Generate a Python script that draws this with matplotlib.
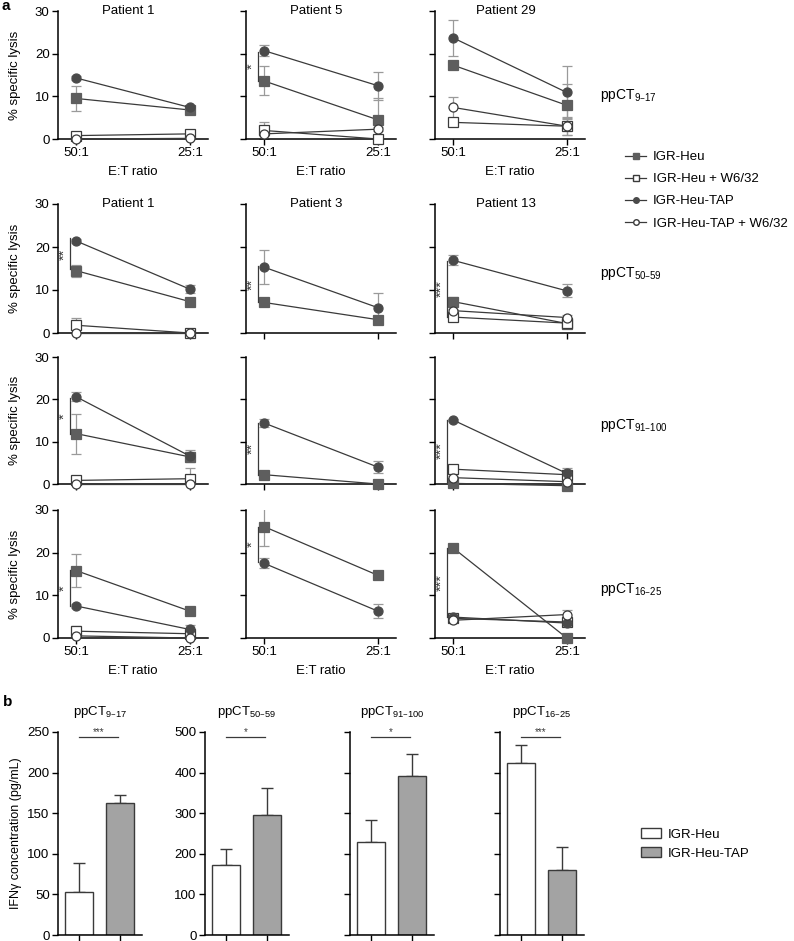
import numpy as np
import matplotlib
matplotlib.use("Agg")
import matplotlib.pyplot as plt
from matplotlib.lines import Line2D
from matplotlib.patches import Patch

plt.rcParams['font.family'] = ['Liberation Sans', 'DejaVu Sans']
plt.rcParams['mathtext.default'] = 'regular'

# %% data - panel a (row-major, 3 patients x 4 peptides), values at 50:1 and 25:1
ratios = ["50:1", "25:1"]
peptides = ["ppCT$_{9\u201317}$", "ppCT$_{50\u201359}$", "ppCT$_{91\u2013100}$", "ppCT$_{16\u201325}$"]
patients = [["Patient 1", "Patient 5", "Patient 29"],
            ["Patient 1", "Patient 3", "Patient 13"],
            ["", "", ""],
            ["", "", ""]]
nan = np.nan
heu = [[9.5, 6.8], [13.6, 4.5], [17.3, 7.9],
       [14.5, 7.3], [7.1, 3.1], [7.3, 2.2],
       [11.9, 6.4], [2.2, 0.0], [0.15, -0.4],
       [15.8, 6.3], [26.1, 14.7], [21.1, 0.0]]
heu_err = [[3.0, 0.5], [3.4, 5.0], [0.0, 4.9],
           [1.4, 0.4], [0.7, 0.4], [1.0, 0.4],
           [4.7, 0.5], [0.3, 0.3], [0.3, 0.3],
           [3.8, 0.4], [4.5, 0.4], [0.4, 0.3]]
heu_w632 = [[0.8, 1.2], [2.0, 0.0], [3.9, 3.0],
            [1.8, 0.0], [nan, nan], [3.7, 2.3],
            [0.85, 1.25], [nan, nan], [3.5, 2.2],
            [1.6, 1.0], [nan, nan], [4.6, 3.75]]
heu_w632_err = [[0.3, 0.3], [2.0, 0.2], [0.5, 2.0],
                [1.8, 0.2], [nan, nan], [0.4, 0.5],
                [0.4, 2.6], [nan, nan], [0.3, 0.5],
                [1.2, 0.5], [nan, nan], [0.4, 0.5]]
tap = [[14.3, 7.4], [20.7, 12.5], [23.7, 10.9],
       [21.4, 10.2], [15.3, 5.9], [16.9, 9.8],
       [20.6, 6.6], [14.4, 4.0], [15.1, 2.5],
       [7.5, 2.0], [17.5, 6.3], [4.9, 3.5]]
tap_err = [[0.4, 0.4], [1.3, 3.3], [4.3, 6.1],
           [0.4, 1.0], [3.9, 3.3], [1.2, 1.5],
           [1.1, 1.5], [1.0, 1.5], [0.3, 1.2],
           [0.5, 1.0], [1.2, 1.7], [0.6, 0.5]]
tap_w632 = [[0.0, 0.15], [1.2, 2.3], [7.4, 3.0],
            [0.0, 0.0], [nan, nan], [5.2, 3.6],
            [0.0, 0.0], [nan, nan], [1.5, 0.55],
            [0.5, 0.0], [nan, nan], [4.15, 5.5]]
tap_w632_err = [[0.2, 0.2], [0.5, 0.5], [2.4, 2.1],
                [0.1, 0.1], [nan, nan], [0.4, 0.5],
                [0.1, 0.1], [nan, nan], [0.3, 0.3],
                [0.3, 0.2], [nan, nan], [0.4, 1.0]]
sig_stars = [None, "*", None,
             "**", "**", "***",
             "*", "**", "***",
             "*", "*", "***"]
sig_span = [None, (20.5, 13.5), None,
            (22.0, 14.8), (15.6, 7.1), (16.8, 3.7),
            (20.2, 11.7), (14.45, 2.2), (15.1, 0.55),
            (16.05, 7.4), (26.1, 17.85), (21.1, 4.9)]

# %% data - panel b, IFNg (pg/mL)
bar_heu = [53, 172, 229, 424]
bar_heu_err = [36, 39, 54, 43]
bar_tap = [163, 295, 391, 160]
bar_tap_err = [9.5, 68, 54, 56]
bar_stars = ["***", "*", "*", "***"]
bar_ymax = [250, 500, 500, 500]

# %% layout helpers (pixel -> figure fraction)
W, H = 794, 941
fig = plt.figure(figsize=(W / 100, H / 100), dpi=100)

def px_axes(x0, x1, ytop, ybot):
    return fig.add_axes([x0 / W, 1 - ybot / H, (x1 - x0) / W, (ybot - ytop) / H])

col_x = [58, 246, 435]
row_y = [(11, 139), (204, 333), (357, 484), (510, 638)]
dark = "#3a3a3a"
sq_col = "#5e5e5e"
ci_col = "#4a4a4a"
errc = "#9a9a9a"
fs = 9.5

series = [(heu, heu_err, "s", sq_col),
          (heu_w632, heu_w632_err, "s", "white"),
          (tap, tap_err, "o", ci_col),
          (tap_w632, tap_w632_err, "o", "white")]
xs = np.array([0, 1])

for r in range(4):
    for c in range(3):
        k = r * 3 + c
        ax = px_axes(col_x[c], col_x[c] + 150, row_y[r][0], row_y[r][1])
        for vals, errs, mk, fc in series:
            v = np.array(vals[k], dtype=float)
            if np.all(np.isnan(v)):
                continue
            e = np.array(errs[k], dtype=float)
            ax.errorbar(xs, v, yerr=e, fmt="none", ecolor=errc, elinewidth=0.9,
                        capsize=3.5, capthick=0.9, zorder=2)
            ax.plot(xs, v, "-", color=dark, lw=0.9, marker=mk, ms=6.5,
                    mfc=fc, mec=dark if fc == "white" else fc, mew=0.9, zorder=3,
                    clip_on=False)
        if sig_stars[k]:
            y1, y2 = sig_span[k]
            ax.plot([-0.055, -0.055], [y1, y2], color=dark, lw=0.9, zorder=4)
            ax.text(-0.1, (y1 + y2) / 2, sig_stars[k], rotation=90, ha="center",
                    va="center", fontsize=fs + 1, color=dark)
        ax.set_xlim(-0.16, 1.16)
        ax.set_ylim(0, 30)
        ax.set_yticks([0, 10, 20, 30])
        ax.set_xticks(xs)
        for s in ["top", "right"]:
            ax.spines[s].set_visible(False)
        for s in ["left", "bottom"]:
            ax.spines[s].set_linewidth(1.1)
        ax.tick_params(width=1.0, length=4, labelsize=fs, pad=2)
        if c > 0:
            ax.set_yticklabels([])
        else:
            fig.text(15 / W, 1 - (row_y[r][0] + row_y[r][1]) / 2 / H, "% specific lysis",
                     rotation=90, ha="center", va="center", fontsize=fs)
        if r in (0, 3):
            ax.set_xticklabels(ratios)
            ax.set_xlabel("E:T ratio", fontsize=fs, labelpad=5)
        else:
            ax.set_xticklabels([])
        if patients[r][c]:
            ax.text(0.47, 1.0, patients[r][c], transform=ax.transAxes, ha="center",
                    va="center", fontsize=fs)
    fig.text(600 / W, 1 - [95, 273, 425, 590][r] / H, peptides[r], ha="left",
             va="center", fontsize=fs + 0.5)

# legend a
handles = [Line2D([], [], color=dark, lw=0.9, marker=mk, ms=4, mfc=fc,
                  mec=dark if fc == "white" else fc)
           for _, _, mk, fc in series]
fig.legend(handles, ["IGR-Heu", "IGR-Heu + W6/32", "IGR-Heu-TAP", "IGR-Heu-TAP + W6/32"],
           loc="upper left", bbox_to_anchor=(625 / W, 1 - 151 / H), frameon=False,
           fontsize=fs, handlelength=1.6, handletextpad=0.5, labelspacing=0.75,
           borderaxespad=0, borderpad=0)

# %% panel b
bcol_x = [58, 205, 350, 500]
for i in range(4):
    ax = px_axes(bcol_x[i], bcol_x[i] + 84, 732, 935)
    ax.bar(0, bar_heu[i], width=0.68, color="white", edgecolor=dark, lw=1.0, zorder=2)
    ax.bar(1, bar_tap[i], width=0.68, color="#a3a3a3", edgecolor=dark, lw=1.0, zorder=2)
    ax.errorbar([0, 1], [bar_heu[i], bar_tap[i]],
                yerr=[[0, 0], [bar_heu_err[i], bar_tap_err[i]]], fmt="none",
                ecolor=dark, elinewidth=1.0, capsize=4, capthick=1.0, zorder=1)
    ym = bar_ymax[i]
    ax.plot([0.0, 0.95], [0.975 * ym, 0.975 * ym], color=dark, lw=0.9, clip_on=False)
    ax.text(0.475, 1.0 * ym, bar_stars[i], ha="center", va="center", fontsize=7,
            color=dark)
    ax.set_xlim(-0.51, 1.54)
    ax.set_ylim(0, ym)
    ax.set_yticks(np.arange(0, ym + 1, ym / 5))
    ax.set_xticks([0, 1])
    ax.set_xticklabels([])
    for s in ["top", "right"]:
        ax.spines[s].set_visible(False)
    for s in ["left", "bottom"]:
        ax.spines[s].set_linewidth(1.1)
    ax.tick_params(width=1.0, length=4, labelsize=fs, pad=2)
    if i >= 2:
        ax.set_yticklabels([])
    ax.set_title(peptides[i], fontsize=fs, pad=12)
    if i == 0:
        ax.set_ylabel("IFN\u03b3 concentration (pg/mL)", fontsize=fs - 0.5, labelpad=4)

fig.legend([Patch(facecolor="white", edgecolor=dark, lw=1.0),
            Patch(facecolor="#a3a3a3", edgecolor=dark, lw=1.0)],
           ["IGR-Heu", "IGR-Heu-TAP"], loc="upper left",
           bbox_to_anchor=(641 / W, 1 - 828 / H), frameon=False, fontsize=fs,
           handlelength=1.5, handleheight=0.8, handletextpad=0.5, labelspacing=0.5,
           borderaxespad=0, borderpad=0)

fig.text(2 / W, 1 - 6 / H, "a", fontsize=11, fontweight="bold", va="center")
fig.text(3 / W, 1 - 702 / H, "b", fontsize=11, fontweight="bold", va="center")

fig.savefig("out.png", dpi=100)
